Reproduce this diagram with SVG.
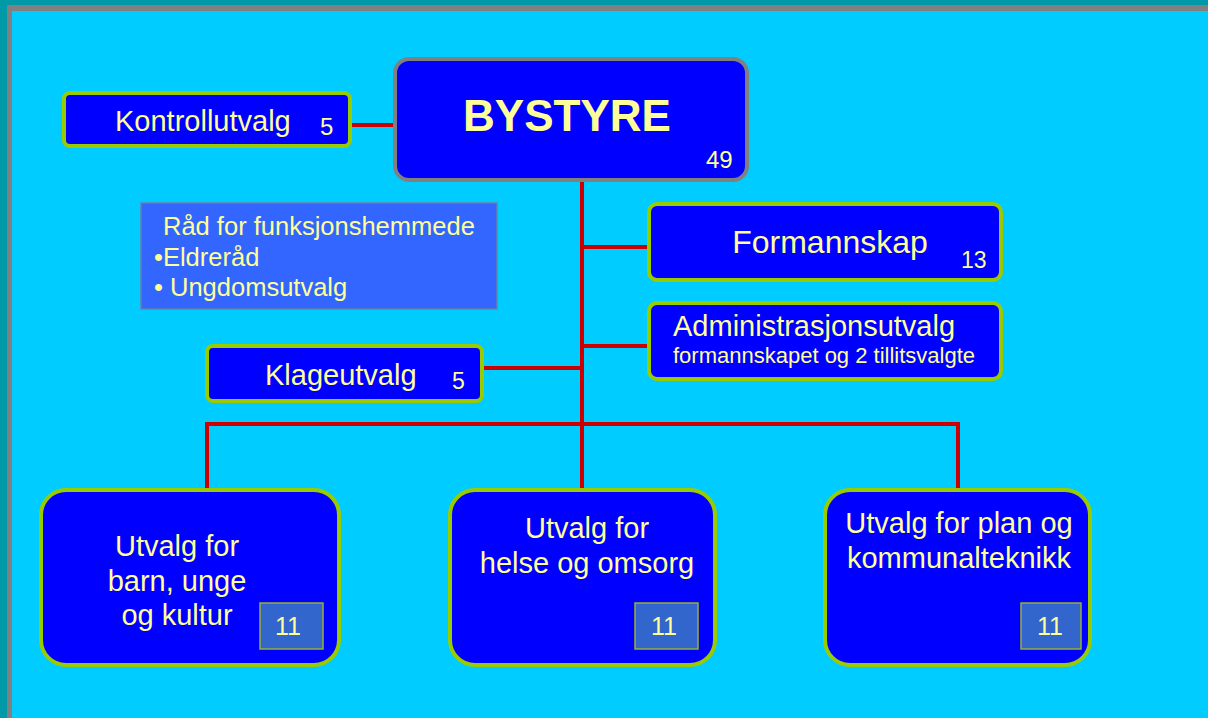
<svg xmlns="http://www.w3.org/2000/svg" width="1208" height="718" viewBox="0 0 1208 718">
<style>
.node{fill:#0000ff;stroke:#99cc00;stroke-width:4}
.top{fill:#0000ff;stroke:#808080;stroke-width:4}
.num{fill:#3366cc;stroke:#99b030;stroke-width:1.5}
.conn{stroke:#cc0000;stroke-width:4;fill:none}
text{font-family:"Liberation Sans",Arial,sans-serif;fill:#ffff99}
.t29{font-size:29px}
.t24{font-size:24px}
.mid{text-anchor:middle}
</style>
<rect x="0" y="0" width="1208" height="718" fill="#0099a8"/>
<rect x="7" y="5" width="1201" height="713" fill="#808080"/>
<rect x="12" y="11" width="1196" height="707" fill="#00ccff"/>
<g id="connectors">
<line class="conn" x1="351" y1="125" x2="395" y2="125"/>
<line class="conn" x1="582" y1="182" x2="582" y2="490"/>
<line class="conn" x1="582" y1="247" x2="649" y2="247"/>
<line class="conn" x1="582" y1="346" x2="649" y2="346"/>
<line class="conn" x1="484" y1="368" x2="582" y2="368"/>
<polyline class="conn" points="207,490 207,424 958,424 958,490"/>
</g>
<g id="bystyre">
<rect class="top" x="395" y="59" width="352" height="121" rx="14"/>
<text x="567" y="131" class="mid" font-size="44" font-weight="bold">BYSTYRE</text>
<text x="706" y="168" class="t24">49</text>
</g>
<g id="kontrollutvalg">
<rect class="node" x="64" y="93" width="286" height="53" rx="6"/>
<text x="115" y="131" class="t29">Kontrollutvalg</text>
<text x="320" y="135" class="t24">5</text>
</g>
<g id="raad">
<rect x="141" y="203" width="356" height="106" fill="#3366ff" stroke="#6a7fa8" stroke-width="1.5"/>
<text x="163" y="235" font-size="25.5">Råd for funksjonshemmede</text>
<text x="154" y="266" font-size="25.5">•Eldreråd</text>
<text x="154" y="296" font-size="25.5">• Ungdomsutvalg</text>
</g>
<g id="formannskap">
<rect class="node" x="649" y="204" width="352" height="76" rx="8"/>
<text x="830" y="253" class="mid" font-size="32">Formannskap</text>
<text x="961" y="268" font-size="23">13</text>
</g>
<g id="administrasjonsutvalg">
<rect class="node" x="649" y="303" width="352" height="76" rx="8"/>
<text x="673" y="336" font-size="29">Administrasjonsutvalg</text>
<text x="673" y="363" font-size="22">formannskapet og 2 tillitsvalgte</text>
</g>
<g id="klageutvalg">
<rect class="node" x="207" y="346" width="275" height="55" rx="6"/>
<text x="265" y="385" class="t29">Klageutvalg</text>
<text x="452" y="389" font-size="23">5</text>
</g>
<g id="barn">
<rect class="node" x="41" y="490" width="298" height="175" rx="25"/>
<text x="177" y="556" class="mid t29">Utvalg for</text>
<text x="177" y="591" class="mid t29">barn, unge</text>
<text x="177" y="625" class="mid t29">og kultur</text>
<rect class="num" x="260" y="603" width="63" height="46"/>
<text x="288" y="635" class="mid" font-size="25">11</text>
</g>
<g id="helse">
<rect class="node" x="450" y="490" width="265" height="175" rx="25"/>
<text x="587" y="538" class="mid t29">Utvalg for</text>
<text x="587" y="573" class="mid t29">helse og omsorg</text>
<rect class="num" x="635" y="603" width="63" height="46"/>
<text x="664" y="635" class="mid" font-size="25">11</text>
</g>
<g id="plan">
<rect class="node" x="825" y="490" width="265" height="175" rx="25"/>
<text x="959" y="533" class="mid t29">Utvalg for plan og</text>
<text x="959" y="568" class="mid t29">kommunalteknikk</text>
<rect class="num" x="1021" y="603" width="60" height="46"/>
<text x="1050" y="635" class="mid" font-size="25">11</text>
</g>
</svg>
